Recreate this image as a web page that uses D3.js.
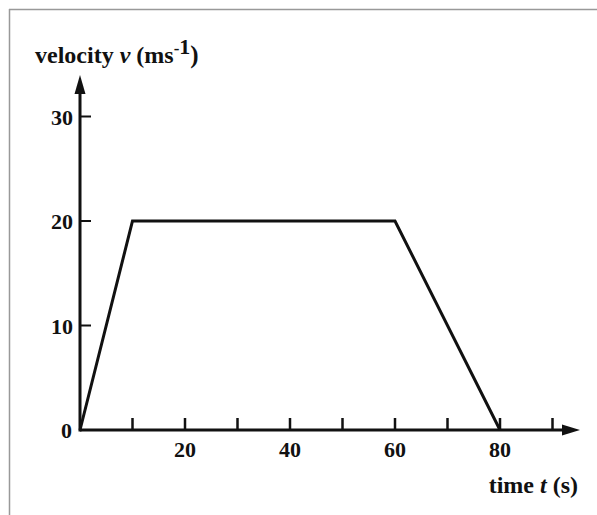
<!DOCTYPE html>
<html><head><meta charset="utf-8">
<script src="https://cdn.jsdelivr.net/npm/d3@7"></script>
<style>body{margin:0;background:#fff}svg{display:block}text{font-family:"Liberation Serif","Times New Roman",serif;font-weight:bold;fill:#111}</style>
</head><body>
<script>
const times = [0, 10, 60, 80];
const velocities = [0, 20, 20, 0];
const xTickValues = [10, 20, 30, 40, 50, 60, 70, 80, 90];
const xTickLabels = ["", "20", "", "40", "", "60", "", "80", ""];
const yTickValues = [10, 20, 30];
const yTickLabels = ["10", "20", "30"];

const W = 597, H = 515;
const svg = d3.select("body").append("svg").attr("width", W).attr("height", H);

// frame (top and left gray lines)
svg.append("line").attr("x1", 9).attr("y1", 9.5).attr("x2", W).attr("y2", 9.5).attr("stroke", "#999").attr("stroke-width", 1.5);
svg.append("line").attr("x1", 9.5).attr("y1", 9).attr("x2", 9.5).attr("y2", H).attr("stroke", "#999").attr("stroke-width", 1.5);

const x = d3.scaleLinear().domain([0, 10]).range([80, 132.5]);
const y = d3.scaleLinear().domain([0, 10]).range([430, 325.5]);

const ink = "#111";
// axes lines
svg.append("line").attr("x1", x(0)).attr("y1", y(0)).attr("x2", 568).attr("y2", y(0)).attr("stroke", ink).attr("stroke-width", 3);
svg.append("line").attr("x1", x(0)).attr("y1", y(0)+1.5).attr("x2", x(0)).attr("y2", 88).attr("stroke", ink).attr("stroke-width", 3);
// arrowheads
svg.append("path").attr("d", `M580,${y(0)} L562,${y(0)-5.5} L562,${y(0)+5.5} Z`).attr("fill", ink);
svg.append("path").attr("d", `M${x(0)},75 L${x(0)-5.5},94 L${x(0)+5.5},94 Z`).attr("fill", ink);

// x ticks
const gx = svg.append("g");
gx.selectAll("line").data(xTickValues).join("line")
  .attr("x1", d => x(d)).attr("x2", d => x(d)).attr("y1", y(0)).attr("y2", y(0) - 12)
  .attr("stroke", ink).attr("stroke-width", 2.5);
gx.selectAll("text").data(xTickValues).join("text")
  .attr("x", d => x(d)).attr("y", y(0) + 27).attr("text-anchor", "middle")
  .attr("font-size", 22).text((d, i) => xTickLabels[i]);

// y ticks
const gy = svg.append("g");
gy.selectAll("line").data(yTickValues).join("line")
  .attr("x1", x(0)).attr("x2", x(0) + 11).attr("y1", d => y(d)).attr("y2", d => y(d))
  .attr("stroke", ink).attr("stroke-width", 2);
gy.selectAll("text").data(yTickValues).join("text")
  .attr("x", x(0) - 7).attr("y", d => y(d) + 8).attr("text-anchor", "end")
  .attr("font-size", 22).text((d, i) => yTickLabels[i]);
svg.append("text").attr("x", x(0) - 8).attr("y", y(0) + 8).attr("text-anchor", "end").attr("font-size", 22).text("0");

// data line
const line = d3.line().x(d => x(d[0])).y(d => y(d[1]));
svg.append("path").datum(times.map((t, i) => [t, velocities[i]]))
  .attr("d", line).attr("fill", "none").attr("stroke", ink).attr("stroke-width", 3).attr("stroke-linejoin", "miter");

// axis titles
const yt = svg.append("text").attr("x", 35).attr("y", 63).attr("font-size", 24);
yt.append("tspan").text("velocity ");
yt.append("tspan").attr("font-style", "italic").text("v");
yt.append("tspan").text(" (ms");
yt.append("tspan").attr("font-size", 17).attr("dy", -9).text("-");
yt.append("tspan").attr("font-size", 22).text("1");
yt.append("tspan").attr("dy", 9).attr("font-size", 25).text(")");

const xt = svg.append("text").attr("x", 578).attr("y", 493).attr("text-anchor", "end").attr("font-size", 24);
xt.append("tspan").text("time ");
xt.append("tspan").attr("font-style", "italic").text("t");
xt.append("tspan").text(" (s)");
</script>
</body></html>
